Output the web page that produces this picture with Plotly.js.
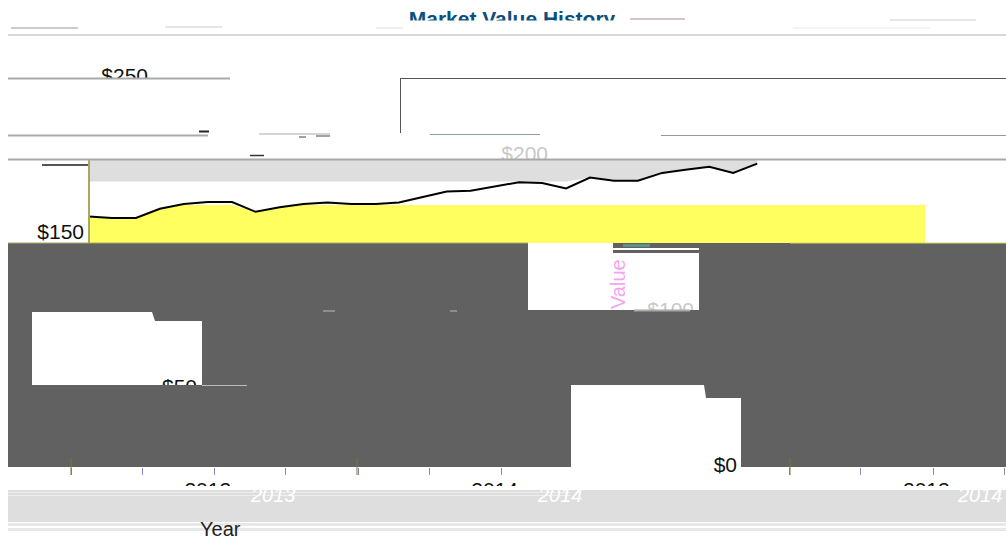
<!DOCTYPE html>
<html><head><meta charset="utf-8">
<script src="https://cdn.plot.ly/plotly-3.0.1.min.js"></script>
<style>html,body{margin:0;padding:0;background:#fff}#c{width:1006px;height:542px}</style>
</head><body><div id="c"></div>
<script>
const chartTitle = "Market Value History";
const xTitle = "Year";
const yTitle = "Value";
const dates = ["2011-02-15","2011-04-15","2011-06-15","2011-08-15","2011-10-15","2011-12-15",
 "2012-02-15","2012-04-15","2012-06-15","2012-08-15","2012-10-15","2012-12-15",
 "2013-02-15","2013-04-15","2013-06-15","2013-08-15","2013-10-15","2013-12-15",
 "2014-02-15","2014-04-15","2014-06-15","2014-08-15","2014-10-15","2014-12-15",
 "2015-02-15","2015-04-15","2015-06-15","2015-08-15","2015-10-15"];
const marketValue = [161,160,160,166,169,170.3,170.3,164,167,169,170,169,169,170,173.5,177,177.5,180,183,182.5,179,186,184,184,189,191,193,189,195];
const yTickVals = [0,50,100,150,200,250];
const yTickText = ["$0","$50","$100","$150","$200","$250"];
const xMinorTicks = ["2011-01-01","2011-07-01","2012-01-01","2012-07-01","2013-01-01","2013-07-01","2014-01-01","2016-01-05","2016-07-04","2017-01-05","2017-07-06"];
const xLabelTicks = ["2012-01-01","2014-01-01","2017-01-05"];
const xLabelText = ["2012","2014","2012"];
const ghostLabels = ["2013","2014","2014"];

// pixel helpers for the page furniture only
const L=8,R=1006,T=78,B=467;
const px=x=>(x-L)/(R-L), py=y=>(B-y)/(B-T);
const valAt=y=>(B-y)/(B-T)*250;
const rect=(x0,y0,x1,y1,c,layer)=>({type:'rect',xref:'paper',yref:'paper',x0:px(x0),x1:px(x1),y0:py(y0),y1:py(y1),fillcolor:c,line:{width:0},layer:layer||'above'});
const hl=(x0,x1,y,c,w)=>({type:'line',xref:'paper',yref:'paper',x0:px(x0),x1:px(x1),y0:py(y),y1:py(y),line:{color:c,width:w||1},layer:'above'});
const vl=(x,y0,y1,c,w)=>({type:'line',xref:'paper',yref:'paper',x0:px(x),x1:px(x),y0:py(y0),y1:py(y1),line:{color:c,width:w||1},layer:'above'});
const poly=pts=>'M'+pts.map(p=>px(p[0])+','+py(p[1])).join('L')+'Z';

const dark='#616161';
const darkPath=[
 poly([[8,243],[1006,243],[1006,467],[8,467]]),
 poly([[32,312],[152,312],[155,321],[202,321],[202,385],[32,385]]),
 poly([[528,243],[699,243],[699,310],[528,310]]),
 poly([[571,385],[704,385],[706,398],[741,398],[741,467],[571,467]])
].join(' ');

const shapes=[
 rect(89,205,925,243,'#ffff5f','below'),
 vl(89,160,243,'#a8a860',2),
 {type:'path',xref:'paper',yref:'paper',path:darkPath,fillcolor:dark,fillrule:'evenodd',line:{width:0},layer:'above'},
 rect(613,243,699,248,dark), rect(613,250,699,253,dark), rect(623,244,650,247,'#5f9090'),
 hl(8,528,243,'#a8a860'), hl(790,1006,243,'#d8d860'),
 hl(634,690,310.5,'#a8a8a8',2), hl(202,247,385.5,'#bbbbbb',1), hl(323,335,311,'#bbbbbb',1), hl(450,457,311,'#bbbbbb',1),
 rect(8,490,1006,522,'#dedede'),
 rect(8,523,1006,526,'#e8e8e8'), rect(8,528,1006,531,'#e8e8e8'),
 hl(8,570,492.5,'#eeeeee',1), hl(8,570,495.5,'#eeeeee',1),
 rect(8,486,1006,490,'#ffffff'),
 rect(95,79,160,92,'#ffffff'),
 rect(495,160,555,170,'#dedede'),
 hl(8,1006,35,'#d8d8d8',2),
 hl(11,78,28,'#999999'), hl(165,222,27,'#cccccc'), hl(376,585,28,'#dddddd'),
 hl(793,930,28,'#e8e8e8'), hl(890,976,20,'#e8e8e8',2), hl(630,685,19,'#d8c0cc',2),
 hl(8,230,78.5,'#aaaaaa',2), hl(400,1006,78.5,'#555555',1),
 vl(400.5,78,133,'#555555',1),
 hl(8,208,135.5,'#aaaaaa',2), hl(259,330,134,'#aaaaaa',1), hl(430,540,134.5,'#8aa0a0',1), hl(661,1006,135.5,'#999999',1),
 hl(199,209,131.5,'#222222',2), hl(250,264,155.5,'#333333',1.5), hl(299,306,137,'#444444',1), hl(316,330,136,'#444444',1),
 hl(8,1006,159.5,'#a8a8a8',2),
 hl(42,88,165,'#555555',2)
];
[71,357,790].forEach(x=>shapes.push(vl(x,458,475,'#77773a',1)));

const FONT='"Liberation Sans",Arial,sans-serif';
const t=(x,y,text,c,size,extra)=>Object.assign({xref:'paper',yref:'paper',x:px(x),y:py(y),xanchor:'center',yanchor:'middle',text:text,showarrow:false,font:{family:FONT,size:size,color:c}},extra||{});
const annotations=[
 t(512,26.5,' ','#ffffff',8,{bgcolor:'#ffffff',width:216,height:11,borderpad:0}),
 t(220,529,xTitle,'#222222',20),
 t(273,495,'<i>'+ghostLabels[0]+'</i>','#ffffff',20),
 t(560,495,'<i>'+ghostLabels[1]+'</i>','#ffffff',20),
 t(980,495,'<i>'+ghostLabels[2]+'</i>','#ffffff',20),
 t(618,284,yTitle,'#f2a6ee',20,{textangle:-90})
];

const traces=[
 // grey band above the line
 {x:dates,y:marketValue.map(v=>Math.max(v,valAt(181.5))),xaxis:'x',yaxis:'y',mode:'lines',line:{width:0},hoverinfo:'skip',showlegend:false},
 {x:dates,y:dates.map(()=>valAt(160)),xaxis:'x',yaxis:'y',mode:'lines',line:{width:0},fill:'tonexty',fillcolor:'#dedede',hoverinfo:'skip',showlegend:false},
 // white gap between line and the yellow block
 {x:dates,y:marketValue.map(v=>Math.min(v,valAt(205))),xaxis:'x',yaxis:'y',mode:'lines',line:{width:0},hoverinfo:'skip',showlegend:false},
 {x:dates,y:dates.map(()=>valAt(205)),xaxis:'x',yaxis:'y',mode:'lines',line:{width:0},fill:'tonexty',fillcolor:'#ffffff',hoverinfo:'skip',showlegend:false},
 {x:dates,y:marketValue,xaxis:'x',yaxis:'y',mode:'lines',line:{color:'#000000',width:2},name:'Market value',showlegend:false},
 // scattered y tick labels
 {x:[737,197,694,84,548,148],y:yTickVals,xaxis:'x3',yaxis:'y',mode:'text',text:yTickText,textposition:'middle left',
  textfont:{family:FONT,size:21,color:['#111111','#111111','#c8c8c8','#111111','#c8c8c8','#111111']},cliponaxis:false,hoverinfo:'skip',showlegend:false},
 {x:xLabelTicks,y:[0,0,0],xaxis:'x2',yaxis:'y',mode:'lines',line:{width:0},hoverinfo:'skip',showlegend:false}
];

const layout={
 width:1006,height:542,autosize:false,
 margin:{l:L,r:0,t:T,b:542-B,pad:0},
 paper_bgcolor:'#ffffff',plot_bgcolor:'#ffffff',
 showlegend:false,
 title:{text:'<b>'+chartTitle+'</b>',font:{family:FONT,size:21,color:'#0b4f7e'},x:512/1006,xanchor:'center',y:1-18.5/542,yanchor:'middle'},
 xaxis:{type:'date',range:['2010-07-24','2017-07-10'],tickvals:xMinorTicks,ticktext:xMinorTicks.map(()=>''),ticks:'outside',ticklen:7,tickcolor:'#8888bb',tickwidth:1,showgrid:false,zeroline:false,showline:false,anchor:'y'},
 xaxis2:{type:'date',overlaying:'x',side:'bottom',anchor:'y',range:['2010-08-10','2017-07-27'],tickvals:xLabelTicks,ticktext:xLabelText,ticks:'',showgrid:false,zeroline:false,showline:false,tickfont:{family:FONT,size:21,color:'#111111'},ticklabelstandoff:8},
 xaxis3:{overlaying:'x',visible:false,range:[8,1006],anchor:'y'},
 yaxis:{range:[0,250],tickvals:yTickVals,showticklabels:false,ticks:'',showgrid:false,zeroline:false,anchor:'free',position:px(89),showline:false},
 shapes:shapes,annotations:annotations
};
Plotly.newPlot('c',traces,layout,{displayModeBar:false,staticPlot:true});
</script></body></html>
